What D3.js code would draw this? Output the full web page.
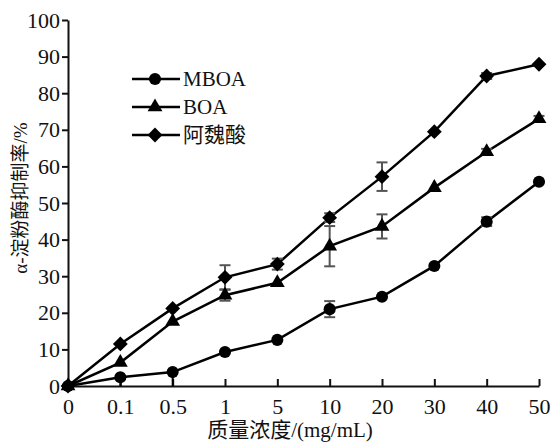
<!DOCTYPE html>
<html>
<head>
<meta charset="utf-8">
<script src="https://cdn.jsdelivr.net/npm/d3@7"></script>
<style>
  body { margin: 0; background: #fff; }
  text { font-family: "Liberation Serif", "Times New Roman", serif; fill: #111; }
  .cjk { font-family: "Liberation Serif", "Noto Sans CJK SC", serif; }
  .tick text { font-size: 22px; font-family: "Liberation Serif", serif; }
</style>
</head>
<body>
<script>
// categories (mass concentration, mg/mL) - evenly spaced on the axis
var concLabels = ["0", "0.1", "0.5", "1", "5", "10", "20", "30", "40", "50"];
var yTicks = [0, 10, 20, 30, 40, 50, 60, 70, 80, 90, 100];

// inhibition rate (%)
var mboa = [0, 2.4, 3.8, 9.3, 12.6, 21, 24.4, 32.8, 44.9, 55.8];
var boa = [0, 6.4, 17.6, 24.8, 28.2, 38.2, 43.6, 54.2, 64, 73];
var ferulic = [0, 11.5, 21.2, 29.7, 33.3, 46, 57.2, 69.5, 84.7, 87.9];

// error bars (sd)
var mboaErr = [0, 0, 0, 0, 0, 2.2, 0, 0, 1.2, 0];
var mboaErrLow = [0, 2.4, 3.8, 0, 0, 0, 0, 0, 0, 0];
var boaErr = [0, 0, 0, 1.5, 0, 5.5, 3.3, 0, 0.8, 0.8];
var ferulicErr = [0, 0, 0, 3.3, 1.5, 1.2, 3.9, 0, 0.8, 0];

var seriesNames = ["MBOA", "BOA", "阿魏酸"];

var svgWidth = 553;
var svgHeight = 443;

var margin = { top: 20, right: 14, bottom: 57, left: 68 };
var chartWidth = svgWidth - margin.left - margin.right;
var chartHeight = svgHeight - margin.top - margin.bottom;

var svg = d3.select("body")
  .append("svg")
  .attr("width", svgWidth)
  .attr("height", svgHeight);

var chartGroup = svg.append("g")
  .attr("transform", `translate(${margin.left}, ${margin.top})`);

var xScale = d3.scalePoint()
  .domain(concLabels)
  .range([0, chartWidth]);

var yScale = d3.scaleLinear()
  .domain([0, 100])
  .range([chartHeight, 0]);

// y axis (ticks outward)
var leftAxis = d3.axisLeft(yScale)
  .tickValues(yTicks)
  .tickSize(6)
  .tickPadding(2)
  .tickSizeOuter(0);

var yAxisG = chartGroup.append("g").call(leftAxis);
yAxisG.select(".domain").attr("stroke", "#111").attr("stroke-width", 2);
yAxisG.selectAll(".tick line").attr("stroke", "#111").attr("stroke-width", 2);
yAxisG.selectAll(".tick text").attr("fill", "#111");

// x axis (ticks pointing up, inside)
var bottomAxis = d3.axisBottom(xScale)
  .tickSize(-7)
  .tickPadding(12)
  .tickSizeOuter(0);

var xAxisG = chartGroup.append("g")
  .attr("transform", `translate(0, ${chartHeight})`)
  .call(bottomAxis);
xAxisG.select(".domain").attr("stroke", "#111").attr("stroke-width", 2);
xAxisG.selectAll(".tick line").attr("stroke", "#111").attr("stroke-width", 2);
xAxisG.selectAll(".tick text").attr("fill", "#111");

// axis titles
svg.append("text")
  .attr("class", "cjk")
  .attr("x", 290)
  .attr("y", 437)
  .attr("text-anchor", "middle")
  .attr("font-size", 21)
  .text("质量浓度/(mg/mL)");

svg.append("text")
  .attr("class", "cjk")
  .attr("transform", "translate(27, 198) rotate(-90)")
  .attr("text-anchor", "middle")
  .attr("font-size", 19)
  .text("α-淀粉酶抑制率/%");

// square diamond (rotated square) like the original
var squareDiamond = {
  draw: function(context, size) {
    var r = Math.sqrt(size / 2);
    context.moveTo(0, -r);
    context.lineTo(r, 0);
    context.lineTo(0, r);
    context.lineTo(-r, 0);
    context.closePath();
  }
};

var allSeries = [
  { name: seriesNames[0], values: mboa, err: mboaErr, errLow: mboaErrLow, symbol: d3.symbolCircle, size: 115 },
  { name: seriesNames[1], values: boa, err: boaErr, errLow: null, symbol: d3.symbolTriangle, size: 95 },
  { name: seriesNames[2], values: ferulic, err: ferulicErr, errLow: null, symbol: squareDiamond, size: 110 }
];

var drawLine = d3.line()
  .x((d, i) => xScale(concLabels[i]))
  .y(d => yScale(d));

allSeries.forEach(function(s) {
  chartGroup.append("path")
    .attr("d", drawLine(s.values))
    .attr("fill", "none")
    .attr("stroke", "#000")
    .attr("stroke-width", 2.5);
});

// error bars
allSeries.forEach(function(s) {
  s.values.forEach(function(v, i) {
    var x = xScale(concLabels[i]);
    var e = s.err[i];
    if (e) {
      var g = chartGroup.append("g")
        .attr("stroke", "#555")
        .attr("stroke-width", 2);
      g.append("line")
        .attr("x1", x).attr("x2", x)
        .attr("y1", yScale(v - e)).attr("y2", yScale(v + e));
      [v - e, v + e].forEach(function(c) {
        g.append("line")
          .attr("x1", x - 5.5).attr("x2", x + 5.5)
          .attr("y1", yScale(c)).attr("y2", yScale(c));
      });
    }
    if (s.errLow && s.errLow[i]) {
      chartGroup.append("line")
        .attr("x1", x).attr("x2", x)
        .attr("y1", yScale(v)).attr("y2", yScale(v - s.errLow[i]))
        .attr("stroke", "#000")
        .attr("stroke-width", 2);
    }
  });
});

// markers
allSeries.forEach(function(s) {
  chartGroup.selectAll(null)
    .data(s.values)
    .enter()
    .append("path")
    .attr("d", d3.symbol().type(s.symbol).size(s.size))
    .attr("transform", (d, i) => `translate(${xScale(concLabels[i])}, ${yScale(d)})`)
    .attr("fill", "#000");
});

// legend
var legend = svg.append("g");
allSeries.forEach(function(s, i) {
  var ly = 79 + i * 28;
  legend.append("line")
    .attr("x1", 132).attr("x2", 180)
    .attr("y1", ly).attr("y2", ly)
    .attr("stroke", "#000")
    .attr("stroke-width", 2.5);
  legend.append("path")
    .attr("d", d3.symbol().type(s.symbol).size(s.size))
    .attr("transform", `translate(155, ${ly})`)
    .attr("fill", "#000");
  legend.append("text")
    .attr("class", "cjk")
    .attr("x", 183)
    .attr("y", ly)
    .attr("dy", "0.35em")
    .attr("font-size", 21)
    .text(s.name);
});
</script>
</body>
</html>
